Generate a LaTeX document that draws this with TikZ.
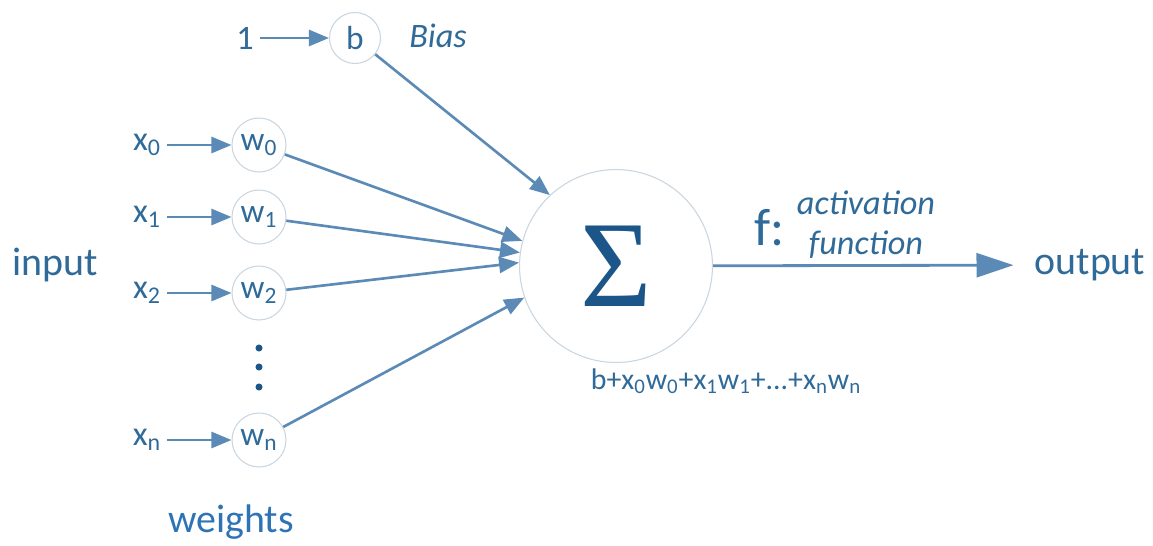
\documentclass[tikz,border=0pt]{standalone}
\usepackage{fontspec}
\setmainfont{Carlito}
\newfontfamily\sigfont{Liberation Serif}
\usetikzlibrary{arrows.meta,positioning}
\definecolor{nblue}{HTML}{2F6A98}
\definecolor{lblue}{HTML}{5A8AB5}
\definecolor{cgray}{HTML}{C9D5DF}
\definecolor{sblue}{HTML}{1C5688}
\definecolor{wblue}{HTML}{2E74B5}
\tikzset{
 wcirc/.style={circle,draw=cgray,line width=0.6pt,minimum size=10.8mm,inner sep=0pt,
   text=nblue,font=\fontsize{19}{19}\selectfont},
 sumcirc/.style={circle,draw=cgray,line width=0.6pt,minimum size=38.6mm,inner sep=0pt,text=sblue},
 txt/.style={text=nblue,font=\fontsize{19.5}{20}\selectfont},
 bigtxt/.style={text=nblue,font=\fontsize{22.7}{24}\selectfont},
 ittxt/.style={text=nblue,font=\fontsize{19.5}{20}\selectfont\itshape},
 arrow/.style={-{Triangle[length=4mm,width=3.2mm]},line width=1.5pt,draw=lblue},
 bigarrow/.style={-{Triangle[length=7.4mm,width=4.8mm]},line width=1.6pt,draw=lblue}
}

\begin{document}
\begin{tikzpicture}[x=0.02cm,y=-0.02cm]
 \useasboundingbox (0,0) rectangle (1153,545);
 % bias
 \node[txt] (one) at (245,38) {1};
 \node[wcirc,minimum size=10.2mm] (b) at (355,38) {b};
 \node[ittxt] (bias) at (438,36) {Bias};
 % inputs and weights
 \node[txt] (x0) at (147,145) {x\textsubscript{0}};
 \node[txt] (x1) at (147,217) {x\textsubscript{1}};
 \node[txt] (x2) at (147,293) {x\textsubscript{2}};
 \node[txt] (xn) at (147,440) {x\textsubscript{n}};
 \node[wcirc] (w0) at (259,145) {w\textsubscript{0}};
 \node[wcirc] (w1) at (259,217) {w\textsubscript{1}};
 \node[wcirc] (w2) at (259,293) {w\textsubscript{2}};
 \node[wcirc] (wn) at (259,440) {w\textsubscript{n}};
 \foreach \y in {348,367,387} \fill[sblue] (259,\y) circle (2pt);
 \node[bigtxt] (input) at (55,265) {input};
 \node[bigtxt,text=wblue] (weights) at (231,522) {weights};
 % neuron
 \node[sumcirc] (sum) at (616,266) {\sigfont\fontsize{70}{70}\selectfont Σ};
 \node[txt,font=\fontsize{17}{17}\selectfont] (formula) at (726,381)
   {b+x\textsubscript{0}w\textsubscript{0}+x\textsubscript{1}w\textsubscript{1}+...+x\textsubscript{n}w\textsubscript{n}};
 \node[bigtxt,font=\fontsize{30}{30}\selectfont] (f) at (770,228) {f:};
 \node[ittxt] (act) at (866,203) {activation};
 \node[ittxt] (fun) at (866,245) {function};
 \node[bigtxt] (output) at (1090,265) {output};
 % connectors
 \draw[arrow] (one) -- (b);
 \foreach \i in {0,1,2,n} \draw[arrow] (x\i) -- (w\i);
 \draw[arrow] (b) -- (sum.133);
 \draw[arrow] (w0) -- (sum.165);
 \draw[arrow] (w1) -- (sum.172);
 \draw[arrow] (w2) -- (sum.178);
 \draw[arrow] (wn) -- (sum.199);
 \draw[bigarrow,shorten >=3mm] (sum) -- (output);
\end{tikzpicture}
\end{document}
